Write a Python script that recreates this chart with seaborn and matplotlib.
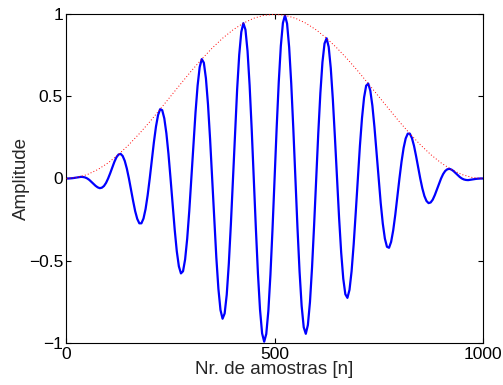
import matplotlib
matplotlib.use("Agg")
import matplotlib.pyplot as plt
import seaborn as sns
import pandas as pd

# Windowed oscillation, sampled every 5 samples
amostras = list(range(0, 1001, 5))
amplitude = [
    0, 0.000, 0.001, 0.002, 0.004, 0.006, 0.008, 0.010, 0.009, 0.006,
    0, -0.009, -0.021, -0.033, -0.045, -0.054, -0.059, -0.056, -0.046, -0.027,
    0, 0.032, 0.067, 0.101, 0.129, 0.146, 0.150, 0.137, 0.107, 0.060,
    0, -0.068, -0.136, -0.199, -0.246, -0.273, -0.273, -0.244, -0.186, -0.102,
    0, 0.111, 0.221, 0.316, 0.386, 0.422, 0.416, 0.366, 0.275, 0.150,
    0, -0.159, -0.312, -0.443, -0.535, -0.578, -0.565, -0.493, -0.367, -0.198,
    0, 0.207, 0.402, 0.565, 0.678, 0.727, 0.705, 0.610, 0.451, 0.241,
    0, -0.249, -0.481, -0.672, -0.801, -0.854, -0.822, -0.708, -0.520, -0.277,
    0, 0.282, 0.542, 0.753, 0.892, 0.946, 0.906, 0.776, 0.567, 0.300,
    0, -0.303, -0.579, -0.799, -0.943, -0.994, -0.947, -0.807, -0.587, -0.309,
    0, 0.309, 0.587, 0.807, 0.947, 0.994, 0.943, 0.799, 0.579, 0.303,
    0, -0.300, -0.567, -0.776, -0.906, -0.946, -0.892, -0.753, -0.542, -0.282,
    0, 0.277, 0.520, 0.708, 0.822, 0.854, 0.801, 0.672, 0.481, 0.249,
    0, -0.241, -0.451, -0.610, -0.705, -0.727, -0.678, -0.565, -0.402, -0.207,
    0, 0.198, 0.367, 0.493, 0.565, 0.578, 0.535, 0.443, 0.312, 0.159,
    0, -0.150, -0.275, -0.366, -0.416, -0.422, -0.386, -0.316, -0.221, -0.111,
    0, 0.102, 0.186, 0.244, 0.273, 0.273, 0.246, 0.199, 0.136, 0.068,
    0, -0.060, -0.107, -0.137, -0.150, -0.146, -0.129, -0.101, -0.067, -0.032,
    0, 0.027, 0.046, 0.056, 0.059, 0.054, 0.045, 0.033, 0.021, 0.009,
    0, -0.006, -0.009, -0.010, -0.008, -0.006, -0.004, -0.002, -0.001, 0.000,
    0,
]

# Window envelope, every 25 samples
amostras_janela = list(range(0, 1001, 25))
janela = [
    0, 0.006, 0.024, 0.054, 0.095, 0.146, 0.206, 0.273, 0.345, 0.422,
    0.5, 0.578, 0.655, 0.727, 0.794, 0.854, 0.905, 0.946, 0.976, 0.994,
    1.0, 0.994, 0.976, 0.946, 0.905, 0.854, 0.794, 0.727, 0.655, 0.578,
    0.5, 0.422, 0.345, 0.273, 0.206, 0.146, 0.095, 0.054, 0.024, 0.006,
    0,
]

x_ticks = [0, 500, 1000]
y_ticks = [-1, -0.5, 0, 0.5, 1]
y_tick_labels = ["\u22121", "\u22120.5", "0", "0.5", "1"]

sns.set_style("ticks")
plt.rcParams["font.family"] = ["Liberation Sans", "DejaVu Sans"]

sinal = pd.DataFrame({"n": amostras, "a": amplitude})
env = pd.DataFrame({"n": amostras_janela, "w": janela})

fig = plt.figure(figsize=(5.03, 3.85), dpi=100)
ax = fig.add_axes([0.1322, 0.1099, 0.8274, 0.8530])

sns.lineplot(data=sinal, x="n", y="a", ax=ax, color=(0, 0, 1), linewidth=1.6, zorder=2)
sns.lineplot(data=env, x="n", y="w", ax=ax, color=(1, 0, 0), linewidth=0.7,
             zorder=3)
ax.lines[-1].set_dashes([1, 2.2])

ax.set_xlim(0, 1000)
ax.set_ylim(-1, 1)
ax.set_xticks(x_ticks)
ax.set_xticklabels([str(t) for t in x_ticks])
ax.set_yticks(y_ticks)
ax.set_yticklabels(y_tick_labels)

for s in ax.spines.values():
    s.set_visible(True)
    s.set_color("black")
    s.set_linewidth(0.8)

ax.tick_params(direction="in", top=True, right=True, length=3.5, width=0.8,
               labelsize=12.5, colors="black", pad=3)
ax.tick_params(axis="y", pad=2.5)

ax.set_xlabel("Nr. de amostras [n]", fontsize=13.5, labelpad=-0.5)
ax.set_ylabel("Amplitude", fontsize=13.5, labelpad=-1)

fig.savefig("out.png", dpi=100)
